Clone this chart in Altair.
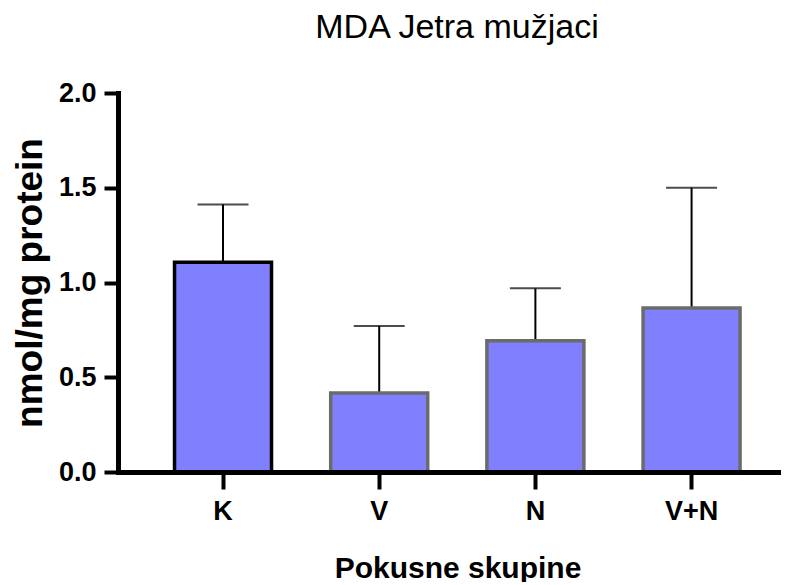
import altair as alt
import pandas as pd

groups = ["K", "V", "N", "V+N"]
means = [1.107, 0.417, 0.692, 0.866]
upper = [1.412, 0.771, 0.969, 1.500]
bar_stroke = ["#000000", "#6b6b6b", "#6b6b6b", "#6b6b6b"]
chart_title = ["MDA Jetra mužjaci"]

df = pd.DataFrame({"group": groups, "mean": means, "upper": upper, "sc": bar_stroke})
df_title = pd.DataFrame({"t": chart_title})

FONT = "Liberation Sans"

x_axis = alt.Axis(
    title="Pokusne skupine",
    labelAngle=0,
    labelFont=FONT,
    labelFontSize=27,
    labelFontWeight="bold",
    labelColor="black",
    labelPadding=9,
    labelAlign="center",
    labelBaseline="top",
    ticks=True,
    tickSize=17,
    tickWidth=4,
    tickColor="#000000",
    tickOpacity=1,
    domainWidth=5,
    domainColor="black",
    titleFont=FONT,
    titleFontSize=30,
    titleFontWeight="bold",
    titleColor="black",
    titleX=339.5,
    titleY=105,
    titleBaseline="alphabetic",
    titleAlign="center",
    zindex=1,
)
x_scale = alt.Scale(paddingInner=0.379, paddingOuter=0.312, align=0.58)
x_enc = alt.X("group:N", sort=groups, scale=x_scale, axis=x_axis)

y_axis = alt.Axis(
    title="nmol/mg protein",
    values=[0, 0.5, 1.0, 1.5, 2.0],
    format=".1f",
    grid=False,
    labelFont=FONT,
    labelFontSize=27,
    labelFontWeight="bold",
    labelColor="black",
    labelPadding=8,
    tickSize=14,
    tickWidth=4,
    tickColor="black",
    domainWidth=5,
    domainColor="black",
    domainCap="square",
    titleFont=FONT,
    titleFontSize=37,
    titleFontWeight="bold",
    titleColor="black",
    titleX=-77,
    titleY=189.5,
    titleBaseline="alphabetic",
    titleAlign="center",
)
y_scale = alt.Scale(domain=[0, 2], nice=False)

base = alt.Chart(df)

bars = base.mark_bar(fill="#8080FF", strokeWidth=3.5).encode(
    x=x_enc,
    y=alt.Y("mean:Q", scale=y_scale, axis=y_axis),
    stroke=alt.Stroke("sc:N", scale=None),
)

rules = base.mark_rule(color="black", strokeWidth=2).encode(
    x=x_enc,
    y=alt.Y("mean:Q", scale=y_scale, axis=y_axis),
    y2="upper:Q",
)

caps = base.mark_tick(color="black", thickness=2, size=51).encode(
    x=x_enc,
    y=alt.Y("upper:Q", scale=y_scale, axis=y_axis),
)

title_mark = alt.Chart(df_title).mark_text(
    font=FONT, fontSize=34, color="black", align="center", baseline="alphabetic"
).encode(
    text="t:N",
    x=alt.value(339),
    y=alt.value(-55),
)

chart = (
    alt.layer(rules, caps, bars, title_mark)
    .properties(
        width=663,
        height=379,
        padding={"left": 110, "top": 85, "right": 0, "bottom": 110},
        autosize=alt.AutoSizeParams(type="none"),
    )
    .configure_view(stroke=None)
    .configure_axis(grid=False)
)

chart.save("out.html", embed_options={"renderer": "svg", "actions": False})
